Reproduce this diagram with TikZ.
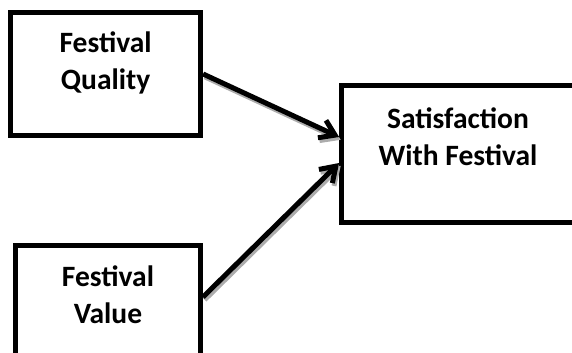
\documentclass[tikz,border=0pt]{standalone}
\usepackage{fontspec}
\setmainfont{Carlito}
\usetikzlibrary{arrows.meta,positioning,calc}

\begin{document}
\begin{tikzpicture}
  [
  font=\bfseries\fontsize{21}{26}\selectfont, >={Straight Barb[length=3.6mm,width=4.8mm]}, line width=0.125cm,
  factor/.style={rectangle, minimum width=4.75cm, minimum height=3.075cm, draw=black},
  outcome/.style={rectangle, minimum width=5.96cm, minimum height=3.425cm, draw=black},
  caption/.style={align=center, inner sep=0pt},
  effect/.style={->, preaction={draw=gray!65, transform canvas={shift={(0.04cm,-0.07cm)}}}}
  ]

\useasboundingbox (0,0) rectangle (14.3,8.8);
\clip (0,0) rectangle (14.3,8.8);

\node[factor] (quality) at (2.64,6.95) {};
\node[factor, minimum width=4.625cm] (value) at (2.7,1.125) {};
\node[outcome] (satisfaction) at (11.52,4.95) {};

\node[caption] (qualitytext) at ([yshift=0.275cm]quality.center) {Festival\\Quality};
\node[caption] (valuetext) at ([yshift=0.3cm]value.center) {Festival\\Value};
\node[caption] (satisfactiontext) at ([xshift=-0.07cm,yshift=0.425cm]satisfaction.center) {Satisfaction\\With Festival};

\draw[effect] (quality.east) -- ([yshift=0.425cm]satisfaction.west);
\draw[effect] ([yshift=0.25cm]value.east) -- ([yshift=-0.225cm]satisfaction.west);

\end{tikzpicture}
\end{document}
